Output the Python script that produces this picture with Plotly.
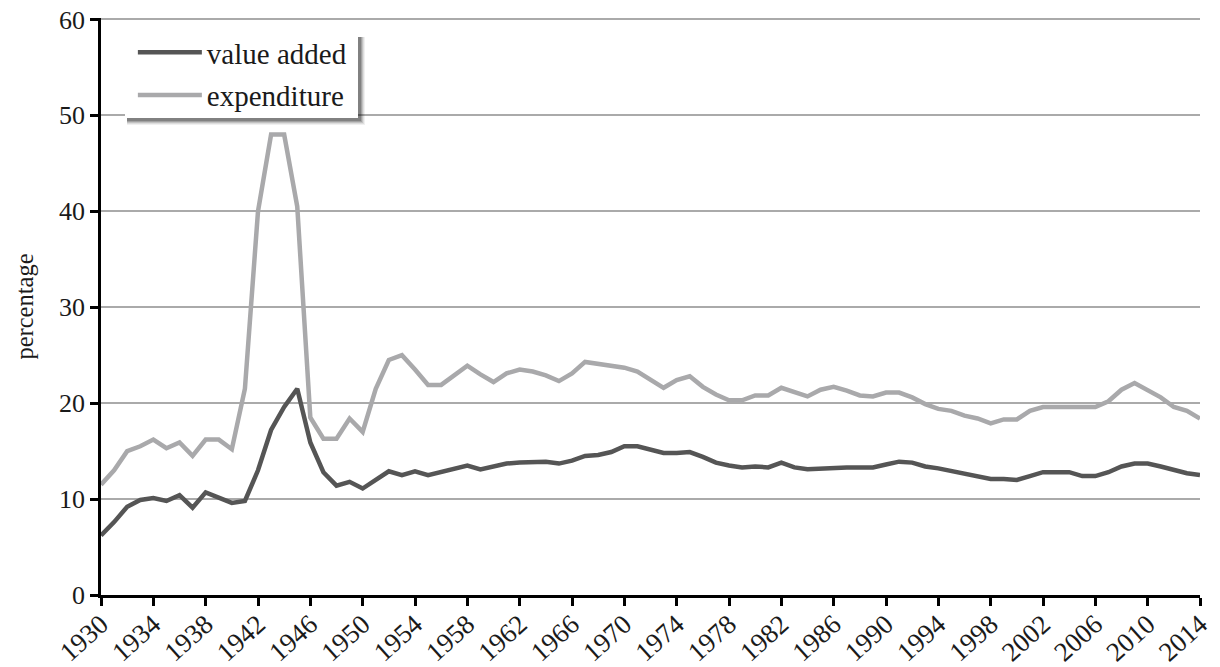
import plotly.graph_objects as go

years = list(range(1930, 2015))

value_added = [
    6.2, 7.6, 9.2, 9.9, 10.1, 9.8, 10.4, 9.1, 10.7, 10.1,
    9.6, 9.8, 13.0, 17.2, 19.6, 21.5, 15.9, 12.8, 11.4, 11.8,
    11.1, 12.0, 12.9, 12.5, 12.9, 12.5, 12.8, 13.1, 13.5, 13.1,
    13.4, 13.7, 13.8, 13.9, 13.9, 13.7, 14.0, 14.5, 14.6, 14.9,
    15.5, 15.5, 15.2, 14.8, 14.8, 14.9, 14.4, 13.8, 13.5, 13.3,
    13.4, 13.3, 13.8, 13.3, 13.1, 13.2, 13.3, 13.3, 13.3, 13.3,
    13.6, 13.9, 13.8, 13.4, 13.2, 12.9, 12.6, 12.3, 12.1, 12.1,
    12.0, 12.4, 12.8, 12.8, 12.8, 12.4, 12.4, 12.8, 13.4, 13.7,
    13.7, 13.4, 13.0, 12.7, 12.5,
]

expenditure = [
    11.5, 13.0, 15.0, 15.5, 16.2, 15.3, 15.9, 14.5, 16.2, 16.2,
    15.2, 21.5, 40.0, 48.0, 48.0, 40.5, 18.5, 16.3, 16.3, 18.4,
    17.0, 21.5, 24.5, 25.0, 23.5, 21.9, 21.9, 22.9, 23.9, 23.0,
    22.2, 23.1, 23.5, 23.3, 22.9, 22.3, 23.1, 24.3, 24.1, 23.8,
    23.7, 23.3, 22.5, 21.6, 22.4, 22.8, 21.7, 20.9, 20.3, 20.3,
    20.8, 20.8, 21.6, 21.2, 20.7, 21.4, 21.7, 21.3, 20.8, 20.7,
    21.1, 21.1, 20.6, 19.9, 19.4, 19.2, 18.7, 18.4, 17.9, 18.3,
    18.3, 19.2, 19.6, 19.6, 19.6, 19.6, 19.6, 20.2, 21.4, 22.1,
    21.4, 20.6, 19.6, 19.2, 18.4,
]

x_ticks = list(range(1930, 2015, 4))
y_ticks = [0, 10, 20, 30, 40, 50, 60]

FONT = "Liberation Serif"
TXT = "#1a1a1a"
Y_MAX = 60.15

fig = go.Figure()
fig.add_trace(go.Scatter(x=years, y=value_added, mode="lines", name="value added",
                         legendgroup="a",
                         line=dict(color="#555555", width=4.5)))
fig.add_trace(go.Scatter(x=years, y=expenditure, mode="lines", name="expenditure",
                         legendgroup="b",
                         line=dict(color="#a9a9ab", width=4.5)))

# legend box with soft shadow (paper coords relative to plot area)
PW, PH = 1099.0, 577.0
top_px, bot_px = 18.0, 595.0


def py(p):
    return (bot_px - p) / PH


bx0, bx1 = 24 / PW, 257 / PW
by0, by1 = py(118), py(35)
for off, op in [(7, 0.06), (6, 0.08), (5, 0.12), (4, 0.16), (3, 0.2)]:
    fig.add_shape(type="rect", xref="paper", yref="paper",
                  x0=bx0 + 2 / PW, x1=bx1 + off / PW,
                  y0=by0 - off / PH, y1=by1 - 2 / PH,
                  fillcolor=f"rgba(0,0,0,{op})", line=dict(width=0), layer="above")
fig.add_shape(type="rect", xref="paper", yref="paper",
              x0=bx0, x1=bx1, y0=by0, y1=by1,
              fillcolor="white", line=dict(width=0), layer="above")

fig.update_layout(
    width=1220, height=667,
    margin=dict(l=101, r=20, t=18, b=72, autoexpand=False),
    paper_bgcolor="white", plot_bgcolor="white",
    font=dict(family=FONT, color=TXT, size=24),
    showlegend=True,
    legend=dict(x=0.029, y=py(27), xanchor="left", yanchor="top",
                bgcolor="rgba(0,0,0,0)", borderwidth=0,
                font=dict(family=FONT, size=29, color=TXT),
                itemwidth=64, tracegroupgap=2, traceorder="grouped"),
    xaxis=dict(range=[1930, 2014], tickmode="array", tickvals=x_ticks,
               ticktext=[str(t) for t in x_ticks], tickangle=-42,
               automargin=False, ticklabeloverflow="allow",
               ticklabelstandoff=-8,
               showgrid=False, zeroline=False, showline=True,
               linecolor="black", linewidth=2.5, ticks="outside",
               ticklen=8, tickwidth=2.5, tickcolor="black",
               tickfont=dict(family=FONT, size=27, color=TXT)),
    yaxis=dict(range=[0, Y_MAX], tickmode="array", tickvals=y_ticks,
               automargin=False, ticklabeloverflow="allow",
               showgrid=True, gridcolor="#aaaaaa", gridwidth=2,
               zeroline=False, showline=True, linecolor="black",
               linewidth=2.5, ticks="outside", ticklen=8, tickwidth=2.5,
               tickcolor="black",
               tickfont=dict(family=FONT, size=26, color=TXT),
               title=dict(text="percentage", standoff=19,
                          font=dict(family=FONT, size=24.5, color=TXT))),
)

fig.write_html("out.html", config={"displayModeBar": False},
               post_script="document.body.style.margin='0';")
